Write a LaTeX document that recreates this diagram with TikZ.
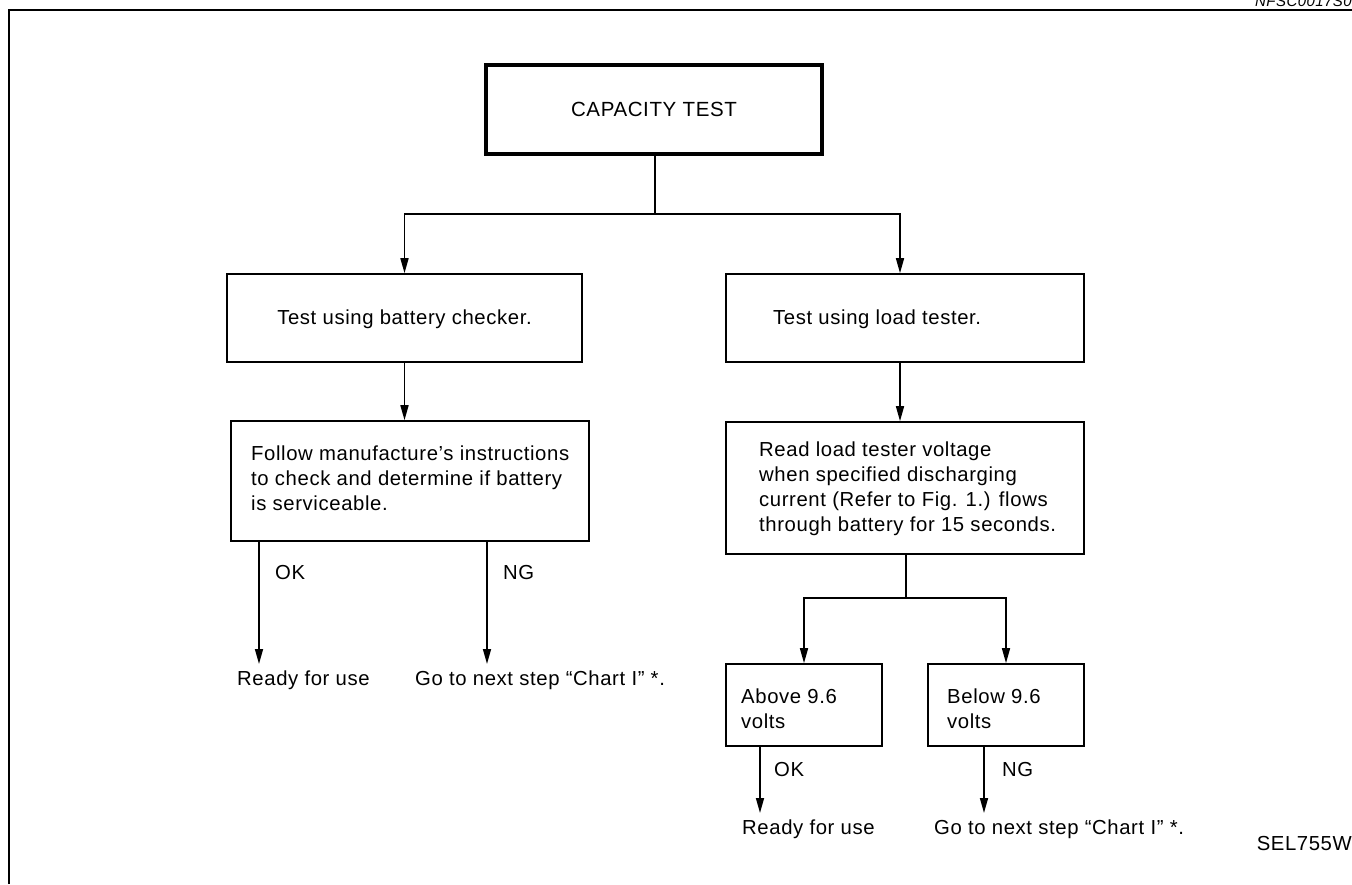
\documentclass[tikz,border=0pt]{standalone}
\usepackage{fontspec}
\setmainfont{Liberation Sans}[LetterSpace=3]
\usetikzlibrary{arrows.meta}
\begin{document}
\begin{tikzpicture}[x=1pt,y=-1pt,
  box/.style={draw, line width=1.6pt, inner sep=0pt},
  thickbox/.style={draw, line width=3.4pt, inner sep=0pt},
  txt/.style={inner sep=0pt, anchor=west, align=left, font=\fontsize{20.3}{25}\selectfont},
  conn/.style={line width=1.6pt},
  arr/.style={line width=1.6pt, -{Triangle[length=15pt,width=8pt]}},
]
\useasboundingbox (0,0) rectangle (1352,884);
% frame
\draw[line width=1.8pt] (9,884) -- (9,10) -- (1352,10);
\node[inner sep=0pt, anchor=base east, font=\itshape\fontsize{15}{15}\selectfont] (code) at (1352,6.5) {NFSC0017S0};
\node[inner sep=0pt, anchor=east, font=\fontsize{20.3}{20}\selectfont] (sel) at (1352,843) {SEL755W};

% boxes
\node[thickbox, minimum width=336pt, minimum height=89pt, font=\fontsize{20.5}{22}\selectfont] (cap) at (654,109.5) {CAPACITY TEST};
\node[box, minimum width=355pt, minimum height=88pt] (b1) at (404.5,318) {};
\node[box, minimum width=358pt, minimum height=88pt] (b2) at (905,318) {};
\node[box, minimum width=358pt, minimum height=120pt] (b3) at (410,481) {};
\node[box, minimum width=358pt, minimum height=132pt] (b4) at (905,488) {};
\node[box, minimum width=156pt, minimum height=82pt] (b5) at (804,705) {};
\node[box, minimum width=156pt, minimum height=82pt] (b6) at (1006,705) {};

% box texts
\node[txt, anchor=center] (t1) at (404.5,319) {Test using battery checker.};
\node[txt] (t2) at (773,319) {Test using load tester.};
\node[txt] (t3) at (251,478) {Follow manufacture’s instructions\\to check and determine if battery\\is serviceable.};
\node[txt] (t4) at (759,489) {Read load tester voltage\\when specified discharging\\current (Refer to Fig. 1.) flows\\through battery for 15 seconds.};
\node[txt] (t5) at (741,709) {Above 9.6\\volts};
\node[txt] (t6) at (947,709) {Below 9.6\\volts};

% result texts
\node[txt] (r1) at (237,680) {Ready for use};
\node[txt] (g1) at (415,680) {Go to next step “Chart I” *.};
\node[txt] (r2) at (742,829) {Ready for use};
\node[txt] (g2) at (934,829) {Go to next step “Chart I” *.};

% labels
\node[txt] (ok1) at (275,573) {OK};
\node[txt] (ng1) at (503,573) {NG};
\node[txt] (ok2) at (774,769) {OK};
\node[txt] (ng2) at (1002,769) {NG};

% coordinates
\coordinate (j1) at (655,214);
\coordinate (j2) at (906,598);
\coordinate (ok1s) at (259,542);
\coordinate (ok1e) at (259,664);
\coordinate (ng1s) at (487,542);
\coordinate (ng1e) at (487,664);
\coordinate (ok2s) at (760,746);
\coordinate (ok2e) at (760,813);
\coordinate (ng2s) at (984,746);
\coordinate (ng2e) at (984,813);

% connectors
\draw[conn] (cap.south -| j1) -- (j1);
\draw[arr] (j1) -| (b1.north);
\draw[arr] (j1) -| ([xshift=-5pt]b2.north);
\draw[arr] (b1.south) -- (b1.south |- b3.north);
\draw[arr] ([xshift=-5pt]b2.south) -- ([xshift=-5pt]b2.south |- b4.north);
\draw[conn] (b4.south -| j2) -- (j2);
\draw[arr] (j2) -| (b5.north);
\draw[arr] (j2) -| (b6.north);
\draw[arr] (ok1s) -- (ok1e);
\draw[arr] (ng1s) -- (ng1e);
\draw[arr] (ok2s) -- (ok2e);
\draw[arr] (ng2s) -- (ng2e);
\end{tikzpicture}
\end{document}
